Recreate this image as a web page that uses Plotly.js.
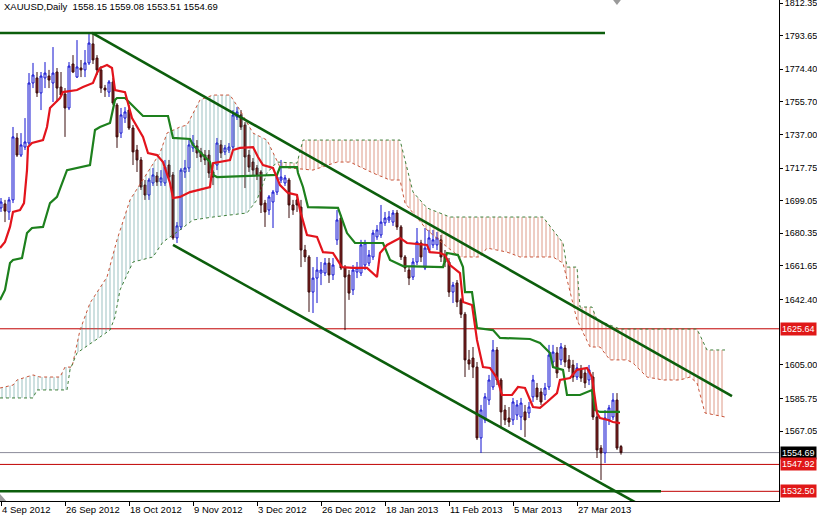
<!DOCTYPE html>
<html><head><meta charset="utf-8">
<script src="https://cdn.plot.ly/plotly-3.0.1.min.js"></script>
<style>html,body{margin:0;padding:0;background:#fff;}#chart{width:817px;height:516px;}</style>
</head><body><div id="chart"></div>
<script>
// ---- Candles (XAUUSD daily, bar index 0 = 4 Sep 2012) ----
const open = [
1694.9,1697.2,1692.6,1699.5,1735.0,1725.2,1729.8,1732.1,1766.5,1769.4,
1760.8,1769.4,1770.5,1766.5,1772.8,1764.2,1760.2,1752.2,1777.4,1769.9,
1775.1,1774.0,1778.0,1788.9,1780.8,1774.0,1763.6,1761.3,1767.1,1753.9,
1737.8,1746.4,1751.0,1740.7,1728.1,1722.4,1708.0,1702.3,1709.2,1713.2,
1709.8,1709.2,1719.5,1713.8,1677.7,1684.0,1715.5,1717.8,1729.3,1730.4,
1727.0,1725.2,1725.2,1715.5,1719.5,1731.0,1727.0,1728.1,1729.8,1747.0,
1748.2,1742.4,1725.2,1721.2,1717.8,1715.5,1697.7,1693.7,1698.3,1704.0,
1710.9,1709.2,1710.9,1696.6,1699.5,1695.4,1670.8,1666.8,1646.7,1654.7,
1657.6,1657.6,1663.3,1656.5,1676.6,1689.1,1660.5,1656.5,1647.9,1658.2,
1657.6,1662.2,1663.3,1666.8,1678.3,1679.4,1686.3,1688.0,1686.8,1692.0,
1684.0,1666.8,1659.3,1655.3,1663.9,1674.8,1660.5,1670.8,1673.7,1673.7,
1676.6,1667.9,1663.9,1646.7,1651.9,1642.2,1634.0,1607.8,1608.9,1603.7,
1563.1,1573.4,1584.8,1592.3,1613.5,1596.3,1579.1,1574.5,1573.4,1576.2,
1575.1,1578.0,1577.4,1586.6,1591.7,1589.4,1587.7,1592.3,1606.6,1611.8,
1607.8,1614.6,1607.8,1604.9,1598.0,1602.1,1600.3,1596.3,1598.0,1575.1,
1557.3,1554.5,1573.4,1575.1,1584.8,1558.15];
const high = [
1700.6,1699.5,1701.2,1741.3,1737.8,1737.8,1746.4,1772.2,1778.0,1772.8,
1772.8,1778.5,1774.0,1787.1,1775.1,1772.8,1763.6,1778.5,1782.5,1791.1,
1779.7,1785.4,1795.2,1795.2,1782.5,1776.2,1765.4,1768.2,1769.4,1755.0,
1752.2,1752.7,1753.9,1742.4,1731.0,1724.1,1710.9,1712.1,1717.8,1715.5,
1716.6,1722.4,1722.4,1715.5,1686.8,1717.8,1722.4,1733.8,1736.7,1733.8,
1729.3,1728.1,1728.1,1716.6,1735.0,1733.8,1731.0,1732.1,1751.0,1752.7,
1751.0,1744.1,1728.1,1723.5,1719.5,1716.6,1699.5,1702.3,1705.2,1713.8,
1722.4,1713.8,1712.1,1699.5,1702.3,1699.5,1673.7,1667.9,1661.0,1666.8,
1663.9,1666.2,1666.2,1666.2,1693.7,1690.9,1662.2,1659.3,1662.2,1663.9,
1676.6,1676.6,1670.8,1682.3,1685.1,1696.6,1692.6,1693.1,1693.7,1693.7,
1685.1,1667.9,1661.6,1666.2,1683.4,1676.6,1683.4,1682.3,1682.3,1681.1,
1679.4,1670.8,1666.2,1652.5,1653.6,1643.3,1635.3,1613.5,1615.2,1606.6,
1582.0,1588.8,1599.2,1619.2,1615.2,1597.4,1582.0,1580.8,1586.0,1584.8,
1586.0,1582.0,1583.7,1599.2,1594.6,1591.7,1594.6,1616.4,1616.4,1615.2,
1617.5,1616.4,1610.6,1607.8,1606.0,1604.9,1603.2,1604.9,1600.9,1578.0,
1559.0,1579.1,1582.0,1588.8,1588.8,1559.08];
const low = [
1692.6,1686.8,1688.0,1697.7,1724.1,1724.1,1728.1,1731.0,1763.6,1758.5,
1751.0,1763.6,1763.6,1755.6,1755.6,1758.5,1735.6,1751.0,1772.2,1769.4,
1769.9,1769.9,1776.8,1777.4,1771.1,1760.8,1758.5,1758.5,1753.9,1729.3,
1735.0,1743.6,1739.6,1719.5,1715.5,1705.2,1699.5,1699.5,1707.5,1707.5,
1707.5,1707.5,1710.9,1676.6,1674.8,1682.3,1712.1,1715.5,1727.0,1723.5,
1721.2,1719.5,1712.1,1708.0,1716.6,1723.5,1725.2,1726.4,1728.1,1745.3,
1739.6,1706.3,1715.5,1713.8,1710.9,1692.0,1684.0,1690.9,1683.4,1702.3,
1709.2,1707.5,1689.1,1690.9,1692.6,1661.0,1663.9,1635.3,1634.7,1640.4,
1650.7,1655.9,1651.9,1653.6,1673.7,1659.3,1624.9,1642.2,1645.0,1654.7,
1655.9,1659.3,1661.6,1665.1,1676.6,1677.7,1684.6,1686.3,1684.6,1682.3,
1665.1,1658.2,1650.7,1653.6,1662.2,1663.9,1659.3,1669.1,1671.9,1670.8,
1663.9,1661.0,1643.9,1640.4,1638.1,1631.8,1598.0,1602.1,1597.4,1561.9,
1554.5,1571.6,1582.0,1590.6,1593.4,1569.4,1570.5,1569.4,1570.5,1573.4,
1567.6,1563.6,1574.5,1583.7,1584.8,1582.0,1584.8,1590.6,1603.7,1597.4,
1604.9,1603.7,1600.9,1595.2,1596.3,1595.2,1591.7,1593.4,1573.4,1551.6,
1539.0,1548.7,1570.5,1573.4,1556.2,1553.51];
const close = [
1698.3,1693.1,1699.5,1735.6,1725.2,1731.0,1732.7,1766.5,1771.1,1760.8,
1770.5,1772.2,1768.2,1772.2,1763.6,1759.6,1752.2,1776.2,1772.8,1775.7,
1774.0,1778.0,1789.4,1779.7,1774.0,1763.6,1762.5,1767.1,1755.0,1735.6,
1748.2,1749.9,1740.7,1727.0,1722.4,1706.9,1702.3,1710.9,1713.8,1709.8,
1712.1,1718.3,1712.6,1677.7,1684.6,1716.6,1717.8,1731.0,1732.1,1726.4,
1724.1,1722.4,1714.9,1712.6,1732.1,1726.4,1729.3,1729.8,1748.2,1749.9,
1741.3,1724.1,1718.3,1716.6,1713.8,1696.6,1692.6,1701.2,1704.0,1712.6,
1712.6,1712.1,1696.6,1693.7,1696.6,1670.8,1666.8,1646.7,1654.7,1659.3,
1659.3,1663.3,1656.5,1662.2,1688.0,1660.5,1655.3,1646.1,1659.3,1660.5,
1673.7,1674.8,1667.9,1680.5,1682.3,1686.8,1689.1,1689.7,1692.0,1684.0,
1666.8,1660.5,1654.7,1663.9,1675.4,1666.8,1671.9,1677.7,1676.6,1677.7,
1666.8,1663.9,1646.7,1650.7,1641.0,1634.0,1607.8,1605.5,1603.7,1563.1,
1579.1,1586.6,1596.3,1613.5,1596.3,1578.0,1573.4,1572.2,1583.7,1582.0,
1583.1,1573.4,1580.8,1596.3,1586.6,1583.7,1591.7,1610.6,1612.3,1600.3,
1615.2,1606.6,1603.2,1598.0,1603.2,1597.4,1594.6,1602.1,1575.1,1556.2,
1554.5,1574.5,1580.3,1584.8,1557.3,1554.69];

// ---- Ichimoku lines (bar index, price) ----
const tenkanX = [-0.25,1,2.25,3,4.75,5.75,6.5,6.75,7.75,10.5,11.5,12.25,13,14.75,15.5,19,20.5,23,24,24.75,26.5,27.75,28.5,31,32.75,35.5,36.75,39,40.5,42.25,43,44.75,47.25,50.5,52.25,53,57.25,58,59.75,63,64.25,65.5,68,69.75,71.75,74,74.75,76.5,79,80.5,83,85.25,88,91.5,94,94.75,96.5,99.75,101.5,106.5,107.25,109.75,111,112.25,114.75,115.5,117.75,119,119.75,120.5,122.25,124,125.25,127.75,129.25,131,133,134.75,136.5,139,139.75,142.25,144,146.5,147.75,149,149.75,151.75,153,154.75];
const tenkanY = [1671.9,1675.4,1684.0,1692.6,1693.7,1697.7,1716.6,1729.8,1732.1,1733.8,1741.3,1752.2,1753.9,1757.9,1761.3,1762.5,1764.2,1766.5,1772.2,1775.1,1776.8,1775.1,1762.5,1761.3,1746.4,1735.6,1726.4,1725.2,1721.2,1709.2,1700.6,1701.2,1704.0,1705.7,1706.9,1720.6,1722.4,1728.1,1729.3,1729.8,1724.1,1719.5,1717.8,1708.0,1703.5,1702.3,1693.7,1679.4,1678.3,1669.6,1669.1,1661.0,1660.5,1660.5,1655.3,1669.1,1673.7,1677.7,1674.8,1673.7,1669.6,1669.1,1667.9,1662.2,1657.6,1641.0,1639.3,1619.2,1611.8,1603.7,1603.2,1597.4,1587.7,1587.7,1592.3,1591.7,1580.8,1580.3,1583.7,1588.8,1596.3,1597.4,1602.1,1603.2,1598.0,1577.4,1574.5,1573.4,1572.2,1571.6];
const kijunX = [-0.25,1,2.25,3,5.25,6.5,7.75,10.5,12.25,14,16.5,19.75,22.25,23.5,24.75,27.25,28.5,29,31,32.75,35.5,41.75,43,47.25,48,50.5,52.25,53,54,69,69.75,74,74.25,75.5,76.75,84.25,85.25,86.5,88.5,95.5,97.25,100.5,110.5,111.5,114.25,115.5,116,117.75,119,123,124.75,132.25,134.75,137.25,138,140.5,141.5,144.75,147.75,148.5,149.75,154.75];
const kijunY = [1642.2,1647.9,1663.3,1665.1,1666.2,1680.5,1683.4,1684.0,1697.7,1701.2,1716.6,1718.3,1719.5,1739.6,1741.3,1743.6,1756.8,1757.9,1757.9,1753.9,1747.6,1747.6,1735.0,1734.4,1731.0,1725.2,1721.2,1713.8,1712.6,1713.8,1718.3,1718.3,1714.9,1706.9,1695.4,1694.9,1688.0,1680.5,1674.8,1674.8,1665.1,1661.6,1661.0,1669.1,1667.9,1661.0,1646.7,1646.7,1626.1,1624.9,1620.4,1619.8,1617.5,1611.8,1603.7,1602.1,1587.7,1587.7,1590.6,1579.1,1578.0,1578.0];
const spanAX = [-0.25,3,4,8,9.75,14.75,16,17.75,19.75,22.25,26.5,29,32.25,38,39.75,41.5,44.75,46.5,49.75,53,57.25,59.75,63,66.5,68,69.25,69.75,78,84,87.25,89.75,93,97.25,99.75,101,106.5,111.5,114.75,119.75,121.5,126.5,129.75,138,140.5,144,147.25,149.75,152.25,156.5,158,161.5,165.5,169.75,172.25,174,176,181];
const spanAY = [1591.7,1593.4,1596.3,1599.2,1598.0,1598.0,1603.7,1603.7,1624.9,1640.4,1655.3,1676.6,1699.5,1720.6,1726.4,1737.8,1741.3,1742.4,1756.8,1759.6,1759.6,1751.0,1737.8,1733.8,1726.4,1721.2,1718.3,1716.6,1721.2,1721.2,1718.3,1714.9,1710.9,1710.9,1697.7,1682.3,1672.5,1666.8,1666.8,1671.9,1669.6,1666.8,1666.8,1663.3,1630.7,1615.2,1615.2,1607.8,1607.8,1606.0,1598.0,1596.3,1596.3,1598.0,1594.6,1577.4,1575.1];
const spanBX = [-0.25,8,9,16.5,17.25,19,27.25,28.5,29.75,33,38,40.5,44.75,48,53,61.5,64,66.5,69,74,75.5,99.75,101,103,106.5,112.25,135.5,138,140.5,141.5,144,144.75,147.75,149,154.75,174,176.5,181];
const spanBY = [1586.0,1586.0,1590.6,1590.6,1602.1,1611.8,1624.9,1632.4,1647.9,1663.9,1666.8,1675.4,1682.3,1688.0,1689.7,1692.0,1699.5,1714.9,1721.2,1720.6,1733.8,1733.8,1722.4,1704.0,1694.9,1689.7,1689.7,1682.3,1674.8,1661.0,1661.0,1638.1,1638.1,1630.7,1625.5,1625.5,1613.5,1613.5];
const cloudCross = 69.25;

// ---- Drawn objects ----
const upperTrendX = [22.75, 182.75], upperTrendY = [1795.2, 1587.1];
const lowerTrendX = [43, 160], lowerTrendY = [1673.7, 1524.4];
const topLevelX = [-0.25, 151], topLevelY = [1795.2, 1795.2];
const bottomLevelX = [-0.25, 165], bottomLevelY = [1532.5, 1532.5];
const redLevels = [1625.64, 1547.92, 1532.50];
const bidLevel = 1554.69;

// ---- Axis labels ----
const dateLabels = ["4 Sep 2012","26 Sep 2012","18 Oct 2012","9 Nov 2012","3 Dec 2012","26 Dec 2012","18 Jan 2013","11 Feb 2013","5 Mar 2013","27 Mar 2013"];
const barsPerLabel = 16;
const priceTicks = [1812.35,1793.65,1774.40,1755.70,1737.00,1717.75,1699.05,1680.35,1661.65,1642.40,1605.00,1585.75,1567.05];
const titleText = "XAUUSD,Daily\u00a0\u00a01558.15 1559.08 1553.51 1554.69";

const idx = open.map((_, i) => i);
const FONT = "Liberation Sans, Arial, sans-serif";

function polygon(ax, ay, bx, by, keepA, keepB) {
  const px = [], py = [];
  ax.forEach((x, i) => { if (keepA(x)) { px.push(x); py.push(ay[i]); } });
  const bxs = [], bys = [];
  bx.forEach((x, i) => { if (keepB(x)) { bxs.push(x); bys.push(by[i]); } });
  for (let i = bxs.length - 1; i >= 0; i--) { px.push(bxs[i]); py.push(bys[i]); }
  return {x: px, y: py};
}
const bull = polygon(spanAX, spanAY, spanBX, spanBY, x => x <= cloudCross, x => x <= cloudCross);
const bear = polygon(spanBX, spanBY, spanAX, spanAY, x => x >= 69, x => x >= cloudCross);

const traces = [
  {type:'scatter', mode:'none', x: bull.x, y: bull.y, fill:'toself', fillcolor:'rgba(0,0,0,0)',
   fillpattern:{shape:'|', fgcolor:'rgba(70,140,140,0.55)', bgcolor:'rgba(0,0,0,0)', size:4, solidity:0.25}, hoverinfo:'skip'},
  {type:'scatter', mode:'none', x: bear.x, y: bear.y, fill:'toself', fillcolor:'rgba(0,0,0,0)',
   fillpattern:{shape:'|', fgcolor:'rgba(200,85,55,0.6)', bgcolor:'rgba(0,0,0,0)', size:4, solidity:0.25}, hoverinfo:'skip'},
  {type:'scatter', mode:'lines', x: spanAX, y: spanAY, line:{color:'#c8553a', width:1, dash:'dot'}, hoverinfo:'skip'},
  {type:'scatter', mode:'lines', x: spanBX, y: spanBY, line:{color:'#3f7f3a', width:1, dash:'dot'}, hoverinfo:'skip'},
  {type:'candlestick', x: idx, open: open, high: high, low: low, close: close, whiskerwidth: 0,
   increasing:{line:{color:'#1010d0', width:1}, fillcolor:'#ffffff'},
   decreasing:{line:{color:'#3a0c0c', width:1}, fillcolor:'#8a2222'}, hoverinfo:'skip'},
  {type:'scatter', mode:'lines', x: kijunX, y: kijunY, line:{color:'#1d801d', width:2.2}, hoverinfo:'skip'},
  {type:'scatter', mode:'lines', x: tenkanX, y: tenkanY, line:{color:'#e3141c', width:2.2}, hoverinfo:'skip'},
  {type:'scatter', mode:'lines', x: upperTrendX, y: upperTrendY, line:{color:'#0c5e0c', width:2.6}, hoverinfo:'skip'},
  {type:'scatter', mode:'lines', x: lowerTrendX, y: lowerTrendY, line:{color:'#0c5e0c', width:2.6}, hoverinfo:'skip'},
  {type:'scatter', mode:'lines', x: topLevelX, y: topLevelY, line:{color:'#0c5e0c', width:2.6}, hoverinfo:'skip'},
  {type:'scatter', mode:'lines', x: bottomLevelX, y: bottomLevelY, line:{color:'#0c5e0c', width:2.6}, hoverinfo:'skip'}
];

const shapes = [];
redLevels.forEach(v => shapes.push({type:'line', xref:'paper', x0:0, x1:1, yref:'y', y0:v, y1:v, line:{color:'#c00000', width:1}, layer:'below'}));
shapes.push({type:'line', xref:'paper', x0:0, x1:1, yref:'y', y0:bidLevel, y1:bidLevel, line:{color:'#8c8c9a', width:1}, layer:'below'});
// small grey chart-shift markers
shapes.push({type:'path', xref:'paper', yref:'paper', path:'M 0.787,1 L 0.797,1 L 0.792,0.99 Z', fillcolor:'#9a9a9a', line:{width:0}});
shapes.push({type:'path', xref:'paper', yref:'paper', path:'M 0,0.014 L 0.008,0 L 0,0 Z', fillcolor:'#9a9a9a', line:{width:0}});

const annotations = [
  {xref:'paper', yref:'paper', x:0, y:1, xanchor:'left', yanchor:'top', xshift:2, yshift:1, text:titleText, showarrow:false,
   font:{family:FONT, size:9.5, color:'#000'}}
];
const boxLabels = [
  {v: redLevels[0], bg:'#e01818'},
  {v: bidLevel, bg:'#000000'},
  {v: redLevels[1], bg:'#e01818'},
  {v: redLevels[2], bg:'#e01818'}
];
boxLabels.forEach(b => annotations.push({
  xref:'paper', yref:'y', x:1, y:b.v, xanchor:'left', yanchor:'middle', xshift:1, text:b.v.toFixed(2), showarrow:false,
  bgcolor:b.bg, borderpad:1, font:{family:FONT, size:9, color:'#ffffff'}
}));

const layout = {
  width:817, height:516, margin:{l:0, r:38, t:0, b:15, pad:0},
  paper_bgcolor:'#ffffff', plot_bgcolor:'#ffffff', showlegend:false,
  xaxis:{range:[-0.25, 194.5], showgrid:false, zeroline:false, showline:true, linecolor:'#000', linewidth:1,
    ticks:'outside', ticklen:4, tickcolor:'#000', tickvals: dateLabels.map((_, i) => i * barsPerLabel), ticktext: dateLabels,
    ticklabelposition:'outside right', ticklabeloverflow:'allow', tickfont:{family:FONT, size:9.5, color:'#000'},
    rangeslider:{visible:false}, fixedrange:true},
  yaxis:{side:'right', range:[1526.95, 1814.07], showgrid:false, zeroline:false, showline:true, linecolor:'#000', linewidth:1,
    ticks:'outside', ticklen:3, tickcolor:'#000', tickvals: priceTicks, ticktext: priceTicks.map(v => v.toFixed(2)),
    ticklabeloverflow:'allow', tickfont:{family:FONT, size:9, color:'#000'}, fixedrange:true},
  shapes: shapes, annotations: annotations
};
Plotly.newPlot('chart', traces, layout, {staticPlot:true, displayModeBar:false});
</script></body></html>
